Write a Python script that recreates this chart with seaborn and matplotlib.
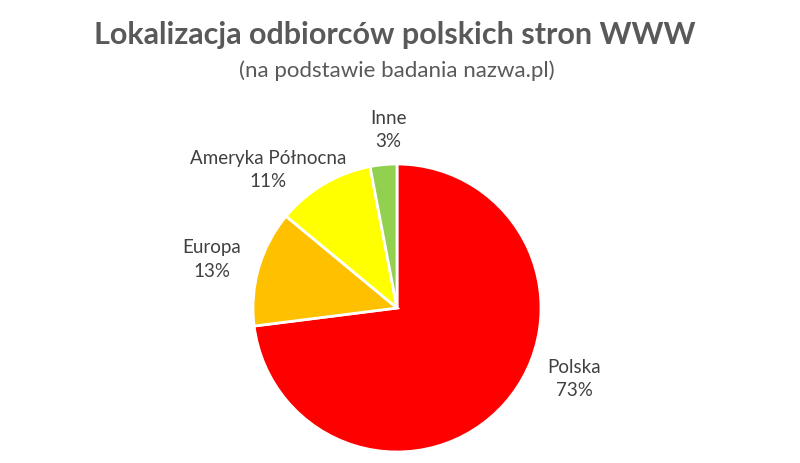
import matplotlib
matplotlib.use("Agg")
import matplotlib.pyplot as plt
import seaborn as sns

regions = ["Polska", "Europa", "Ameryka Północna", "Inne"]
shares = [73, 13, 11, 3]
colors = ["#FF0000", "#FFC000", "#FFFF00", "#92D050"]
# label anchor offsets (in pie-radius units)
label_pos = [(1.23, -0.486), (-1.285, 0.344), (-0.896, 0.965), (-0.0625, 1.243)]

sns.set_theme(style="white")
plt.rcParams["font.family"] = ["Lato", "DejaVu Sans"]

fig = plt.figure(figsize=(8, 4.64), dpi=100)
fig.patch.set_facecolor("white")
ax = fig.add_axes([253 / 800, 11 / 464, 288 / 800, 288 / 464])

wedges, texts = ax.pie(
    shares,
    labels=[f"{r}\n{s}%" for r, s in zip(regions, shares)],
    colors=colors,
    startangle=90,
    counterclock=False,
    radius=1,
    wedgeprops=dict(edgecolor="white", linewidth=2),
    textprops=dict(color="#404040", fontsize=13.5, ha="center", va="center",
                   linespacing=1.45),
)
for t, (x, y) in zip(texts, label_pos):
    t.set_position((x, y))
    t.set_ha("center")
    t.set_va("center")
ax.set_xlim(-1, 1)
ax.set_ylim(-1, 1)
ax.set_aspect("equal")
ax.axis("off")

fig.text(0.494, 0.925, "Lokalizacja odbiorców polskich stron WWW",
         ha="center", va="center", fontsize=22, fontweight="bold", color="#595959")
fig.text(0.496, 0.848, "(na podstawie badania nazwa.pl)",
         ha="center", va="center", fontsize=16, color="#595959")

fig.savefig("out.png", dpi=100)
plt.close(fig)
